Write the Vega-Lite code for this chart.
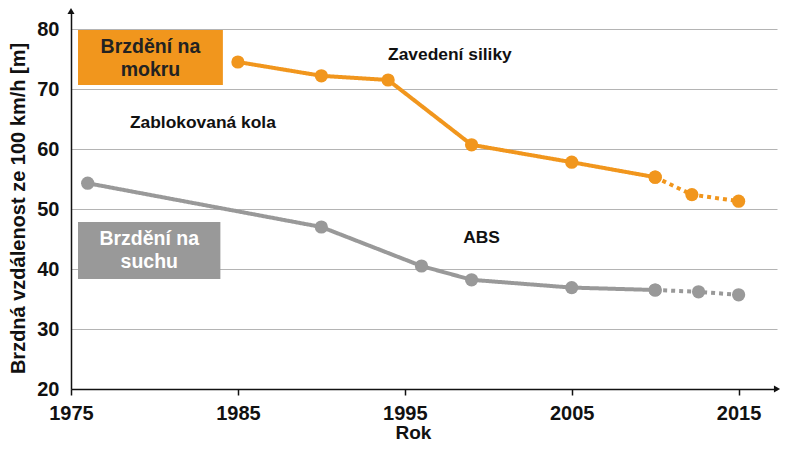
{
  "$schema": "https://vega.github.io/schema/vega-lite/v6.json",
  "width": 706,
  "height": 378,
  "autosize": "none",
  "padding": {"left": 71, "top": 11, "right": 23, "bottom": 64},
  "background": "white",
  "config": {
    "view": {"stroke": null},
    "font": "Liberation Sans"
  },
  "datasets": {
    "series": [
      {"series": "wet", "part": "solid", "year": 1985, "value": 74.5},
      {"series": "wet", "part": "solid", "year": 1990, "value": 72.2},
      {"series": "wet", "part": "solid", "year": 1994, "value": 71.5},
      {"series": "wet", "part": "solid", "year": 1999, "value": 60.7},
      {"series": "wet", "part": "solid", "year": 2005, "value": 57.8},
      {"series": "wet", "part": "solid", "year": 2010, "value": 55.3},
      {"series": "wet", "part": "dotted", "year": 2010, "value": 55.3},
      {"series": "wet", "part": "dotted", "year": 2012.2, "value": 52.4},
      {"series": "wet", "part": "dotted", "year": 2015, "value": 51.3},
      {"series": "dry", "part": "solid", "year": 1976, "value": 54.3},
      {"series": "dry", "part": "solid", "year": 1990, "value": 47.0},
      {"series": "dry", "part": "solid", "year": 1996, "value": 40.5},
      {"series": "dry", "part": "solid", "year": 1999, "value": 38.2},
      {"series": "dry", "part": "solid", "year": 2005, "value": 36.9},
      {"series": "dry", "part": "solid", "year": 2010, "value": 36.5},
      {"series": "dry", "part": "dotted", "year": 2010, "value": 36.5},
      {"series": "dry", "part": "dotted", "year": 2012.6, "value": 36.2},
      {"series": "dry", "part": "dotted", "year": 2015, "value": 35.7}
    ],
    "boxes": [
      {"series": "wet", "x1": 1975.42, "x2": 1984.1, "y1": 79.83, "y2": 70.67, "label": ["Brzdění na", "mokru"], "cx": 1979.76, "cy": 75.25, "tcolor": "#222222"},
      {"series": "dry", "x1": 1975.42, "x2": 1983.95, "y1": 47.83, "y2": 38.33, "label": ["Brzdění na", "suchu"], "cx": 1979.69, "cy": 43.1, "tcolor": "#ffffff"}
    ],
    "notes": [
      {"label": "Zavedení siliky", "year": 1997.7, "value": 75.6},
      {"label": "Zablokovaná kola", "year": 1982.9, "value": 64.4},
      {"label": "ABS", "year": 1999.6, "value": 45.2}
    ],
    "arrows": [
      {"year": 1975, "value": 83, "shape": "triangle-up"},
      {"year": 2017.3, "value": 20, "shape": "triangle-right"}
    ]
  },
  "layer": [
    {
      "data": {"name": "boxes"},
      "mark": {"type": "rect"},
      "encoding": {
        "x": {"field": "x1", "type": "quantitative", "scale": {"domain": [1975, 2017.3], "nice": false, "zero": false}},
        "x2": {"field": "x2"},
        "y": {"field": "y1", "type": "quantitative", "scale": {"domain": [20, 83], "nice": false, "zero": false}},
        "y2": {"field": "y2"},
        "color": {"field": "series", "type": "nominal", "scale": {"domain": ["wet", "dry"], "range": ["#F1961D", "#999999"]}, "legend": null}
      }
    },
    {
      "data": {"name": "series"},
      "mark": {"type": "line", "strokeWidth": 4},
      "encoding": {
        "x": {
          "field": "year", "type": "quantitative",
          "axis": {
            "values": [1975, 1985, 1995, 2005, 2015], "format": "d", "labelFlush": false,
            "labelFontSize": 20, "labelFontWeight": "bold", "labelColor": "#111111",
            "tickSize": 6, "tickColor": "#111111", "tickWidth": 1.5,
            "domainColor": "#111111", "domainWidth": 1.5, "grid": false, "labelPadding": 8,
            "title": "Rok", "titleFontSize": 19, "titleFontWeight": "bold", "titleColor": "#111111",
            "titlePadding": 0, "titleX": 342
          }
        },
        "y": {
          "field": "value", "type": "quantitative",
          "axis": {
            "values": [20, 30, 40, 50, 60, 70, 80], "labelFlush": false,
            "labelFontSize": 20, "labelFontWeight": "bold", "labelColor": "#111111",
            "ticks": false, "labelPadding": 12,
            "domainColor": "#111111", "domainWidth": 1.5,
            "grid": true, "gridColor": "#b4b4b4", "gridWidth": 1.2,
            "title": "Brzdná vzdálenost ze 100 km/h [m]", "titleFontSize": 20, "titleFontWeight": "bold", "titleColor": "#111111",
            "titlePadding": 8, "titleY": 197
          }
        },
        "color": {"field": "series", "type": "nominal", "legend": null},
        "detail": {"field": "part"},
        "strokeDash": {"field": "part", "type": "nominal", "scale": {"domain": ["solid", "dotted"], "range": [[1, 0], [4, 4]]}, "legend": null}
      }
    },
    {
      "data": {"name": "series"},
      "mark": {"type": "circle", "size": 175, "opacity": 1},
      "encoding": {
        "x": {"field": "year", "type": "quantitative"},
        "y": {"field": "value", "type": "quantitative"},
        "color": {"field": "series", "type": "nominal", "legend": null}
      }
    },
    {
      "data": {"name": "boxes"},
      "mark": {"type": "text", "fontSize": 19.5, "fontWeight": "bold", "align": "center", "baseline": "middle", "lineHeight": 23, "dy": -11},
      "encoding": {
        "x": {"field": "cx", "type": "quantitative"},
        "y": {"field": "cy", "type": "quantitative"},
        "text": {"field": "label"},
        "color": {"field": "tcolor", "type": "nominal", "scale": null}
      }
    },
    {
      "data": {"name": "notes"},
      "mark": {"type": "text", "fontSize": 17.4, "fontWeight": "bold", "align": "center", "baseline": "middle", "color": "#111111"},
      "encoding": {
        "x": {"field": "year", "type": "quantitative"},
        "y": {"field": "value", "type": "quantitative"},
        "text": {"field": "label"}
      }
    },
    {
      "data": {"name": "arrows"},
      "mark": {"type": "point", "filled": true, "size": 50, "color": "#111111", "opacity": 1},
      "encoding": {
        "x": {"field": "year", "type": "quantitative"},
        "y": {"field": "value", "type": "quantitative"},
        "shape": {"field": "shape", "type": "nominal", "scale": null}
      }
    }
  ]
}
